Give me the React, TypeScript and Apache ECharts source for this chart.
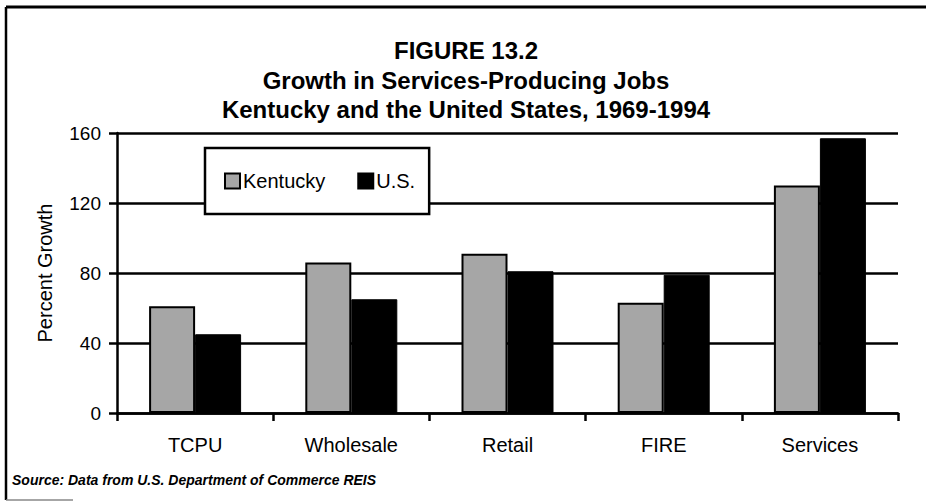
import React, { useEffect, useRef } from "react";
import * as echarts from "echarts";

const categories = ["TCPU", "Wholesale", "Retail", "FIRE", "Services"];
const kentucky = [61, 86, 91, 63, 130];
const us = [45, 65, 81, 79, 157];
const titleLines = [
  "FIGURE 13.2",
  "Growth in Services-Producing Jobs",
  "Kentucky and the United States, 1969-1994",
];
const yAxisName = "Percent Growth";
const sourceText = "Source: Data from U.S. Department of Commerce REIS";

const FONT = "'Liberation Sans', Arial, Helvetica, sans-serif";

export default function App() {
  const ref = useRef<HTMLDivElement>(null);
  useEffect(() => {
    if (!ref.current) return;
    const chart = echarts.init(ref.current, null, { renderer: "svg" });
    chart.setOption({
      animation: false,
      backgroundColor: "#ffffff",
      title: {
        text: titleLines.join("\n"),
        left: 461,
        top: 31,
        textAlign: "center",
        textStyle: {
          fontFamily: FONT,
          fontWeight: "bold",
          fontSize: 24,
          lineHeight: 29.5,
          color: "#000",
        },
      },
      legend: {
        left: 205,
        top: 148,
        orient: "horizontal",
        backgroundColor: "#fff",
        borderColor: "#000",
        borderWidth: 2.5,
        borderRadius: 0,
        padding: [23, 14, 23, 19],
        itemGap: 32,
        itemWidth: 15,
        itemHeight: 15,
        icon: "rect",
        textStyle: {
          fontFamily: FONT,
          fontSize: 20,
          color: "#000",
          padding: [0, 0, 0, -2],
          lineHeight: 20,
        },
        data: ["Kentucky", "U.S."],
      },
      grid: {
        left: 117,
        right: 926 - 898,
        top: 133,
        bottom: 501 - 413,
        containLabel: false,
      },
      xAxis: {
        type: "category",
        data: categories,
        axisLine: { lineStyle: { color: "#000", width: 2.5 } },
        axisTick: {
          show: true,
          alignWithLabel: false,
          length: 8,
          lineStyle: { color: "#000", width: 2.5 },
        },
        axisLabel: {
          fontFamily: FONT,
          fontSize: 20,
          color: "#000",
          margin: 22,
        },
      },
      yAxis: {
        type: "value",
        min: 0,
        max: 160,
        interval: 40,
        name: yAxisName,
        nameLocation: "middle",
        nameGap: 62,
        nameRotate: 90,
        nameTextStyle: { fontFamily: FONT, fontSize: 20, color: "#000" },
        axisLine: { show: true, lineStyle: { color: "#000", width: 2.5 } },
        axisTick: { show: true, length: 8, lineStyle: { color: "#000", width: 2.5 } },
        axisLabel: { fontFamily: FONT, fontSize: 19, color: "#000", margin: 16 },
        splitLine: { show: true, lineStyle: { color: "#000", width: 2.5 } },
      },
      series: [
        {
          name: "Kentucky",
          type: "bar",
          data: kentucky,
          barWidth: 46,
          barGap: "0%",
          itemStyle: { color: "#a6a6a6", borderColor: "#000", borderWidth: 2 },
        },
        {
          name: "U.S.",
          type: "bar",
          data: us,
          barWidth: 46,
          barGap: "0%",
          itemStyle: { color: "#000", borderColor: "#000", borderWidth: 1 },
        },
      ],
      graphic: [
        {
          type: "line",
          shape: { x1: 6, y1: 7, x2: 926, y2: 7 },
          style: { stroke: "#000", lineWidth: 3 },
          silent: true,
        },
        {
          type: "line",
          shape: { x1: 6, y1: 7, x2: 6, y2: 500 },
          style: { stroke: "#000", lineWidth: 2.5 },
          silent: true,
        },
        {
          type: "line",
          shape: { x1: 6, y1: 500, x2: 73, y2: 500 },
          style: { stroke: "#888", lineWidth: 1.5 },
          silent: true,
        },
        {
          type: "text",
          left: 12,
          top: 473,
          style: {
            text: sourceText,
            fontFamily: FONT,
            fontSize: 14,
            fontWeight: "bold",
            fontStyle: "italic",
            fill: "#000",
          },
        },
      ],
    });
    return () => chart.dispose();
  }, []);
  return (
    <div
      ref={ref}
      style={{ position: "fixed", left: 0, top: 0, width: 926, height: 501 }}
    />
  );
}
